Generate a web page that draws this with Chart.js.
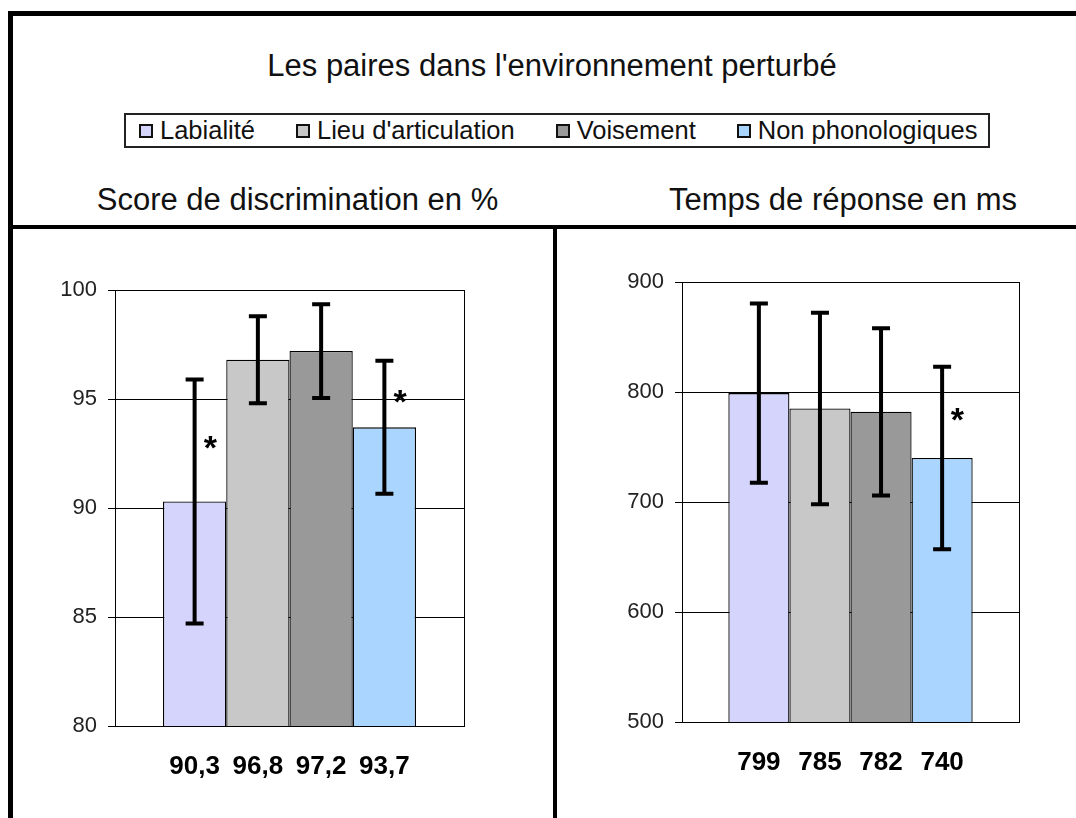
<!DOCTYPE html>
<html lang="fr">
<head>
<meta charset="utf-8">
<title>Les paires dans l'environnement perturbé</title>
<script src="https://cdn.jsdelivr.net/npm/chart.js@4.4.0/dist/chart.umd.min.js"></script>
<style>
    html, body {
        margin: 0;
        padding: 0;
        width: 1076px;
        height: 818px;
        overflow: hidden;
        background: #fff;
        font-family: 'Liberation Sans', Arial, sans-serif;
        color: #111;
    }
    .frame {
        position: absolute;
        left: 8px;
        top: 11px;
        width: 1200px;
        height: 1000px;
        border: 5px solid #000;
        box-sizing: border-box;
    }
    .hrule {
        position: absolute;
        left: 8px;
        top: 225px;
        width: 1100px;
        height: 4px;
        background: #000;
    }
    .vrule {
        position: absolute;
        left: 553px;
        top: 225px;
        width: 4px;
        height: 620px;
        background: #000;
    }
    .text {
        position: absolute;
        text-align: center;
        white-space: nowrap;
        font-size: 31px;
        line-height: 31px;
    }
    .legend {
        position: absolute;
        left: 124px;
        top: 113px;
        height: 35px;
        box-sizing: border-box;
        border: 2px solid #222;
        display: flex;
        align-items: center;
        padding: 0 10px 0 13px;
        font-size: 25.5px;
        white-space: nowrap;
    }
    .legend-item {
        display: flex;
        align-items: center;
        margin-right: 41px;
    }
    .legend-item:last-child { margin-right: 0; }
    .legend-swatch {
        width: 14px;
        height: 14px;
        box-sizing: border-box;
        border: 2px solid #111;
        margin-right: 7px;
    }
    canvas { position: absolute; }
</style>
</head>
<body>
<div class="frame"></div>
<div class="hrule"></div>
<div class="vrule"></div>

<div class="text" style="left:0; width:1104px; top:50px;">Les paires dans l'environnement perturbé</div>
<div class="legend" id="legend"></div>
<div class="text" style="left:0; width:595px; top:184px;">Score de discrimination en %</div>
<div class="text" style="left:600px; width:486px; top:184px;">Temps de réponse en ms</div>

<canvas id="scoreChart" width="538" height="588" style="left:14px; top:230px;"></canvas>
<canvas id="timeChart" width="519" height="588" style="left:557px; top:230px;"></canvas>

<script>
// Data
const seriesNames = ['Labialité', "Lieu d'articulation", 'Voisement', 'Non phonologiques'];

const scoreValues = [90.3, 96.8, 97.2, 93.7];
const scoreErrors = [5.6, 2.0, 2.15, 3.05];
const scoreMarks = ['*', '', '', '*'];
const scoreTicks = [80, 85, 90, 95, 100];

const timeValues = [799, 785, 782, 740];
const timeErrors = [81.5, 87, 76, 83];
const timeMarks = ['', '', '', '*'];
const timeTicks = [500, 600, 700, 800, 900];

const seriesColors = ['#d4d4fc', '#c8c8c8', '#999999', '#a9d5fe'];
const FONT = "'Liberation Sans', Arial, sans-serif";

// Shared legend built from the series names
const legendEl = document.getElementById('legend');
seriesNames.forEach((name, i) => {
    const item = document.createElement('div');
    item.className = 'legend-item';
    const swatch = document.createElement('span');
    swatch.className = 'legend-swatch';
    swatch.style.background = seriesColors[i];
    const label = document.createElement('span');
    label.textContent = name;
    item.appendChild(swatch);
    item.appendChild(label);
    legendEl.appendChild(item);
});

/**
 * Plot frame, error bars, significance stars and value labels under the bars.
 */
function makeOverlay(errors, marks) {
    return {
        id: 'overlay',
        beforeDatasetsDraw(chart) {
            const { ctx, chartArea: a } = chart;
            ctx.save();
            ctx.strokeStyle = '#000';
            ctx.lineWidth = 1;
            ctx.strokeRect(Math.round(a.left) + 0.5, Math.round(a.top) + 0.5,
                Math.round(a.right - a.left), Math.round(a.bottom - a.top));
            ctx.restore();
        },
        afterDatasetsDraw(chart) {
            const { ctx, chartArea: a } = chart;
            const y = chart.scales.y;
            ctx.save();
            chart.data.datasets.forEach((ds, i) => {
                const bar = chart.getDatasetMeta(i).data[0];
                const v = ds.data[0];
                const e = errors[i];
                const yTop = y.getPixelForValue(v + e);
                const yBot = y.getPixelForValue(v - e);

                ctx.strokeStyle = '#000';
                ctx.lineWidth = 4;
                ctx.beginPath();
                ctx.moveTo(bar.x, yTop);
                ctx.lineTo(bar.x, yBot);
                ctx.moveTo(bar.x - 9, yTop);
                ctx.lineTo(bar.x + 9, yTop);
                ctx.moveTo(bar.x - 9, yBot);
                ctx.lineTo(bar.x + 9, yBot);
                ctx.stroke();

                ctx.fillStyle = '#000';
                ctx.textAlign = 'center';
                ctx.textBaseline = 'alphabetic';

                if (marks[i]) {
                    const starY = y.getPixelForValue(v + e / 2);
                    ctx.font = `bold 34px ${FONT}`;
                    ctx.fillText(marks[i], bar.x + bar.width * 0.25, starY + 19);
                }

                ctx.font = `bold 26px ${FONT}`;
                ctx.fillText(v.toLocaleString('fr-FR'), bar.x, a.bottom + 48);
            });
            ctx.restore();
        },
    };
}

function makeChart(canvasId, values, errors, marks, ticks, padding) {
    const ctx = document.getElementById(canvasId).getContext('2d');
    return new Chart(ctx, {
        type: 'bar',
        data: {
            labels: [''],
            datasets: seriesNames.map((name, i) => ({
                label: name,
                data: [values[i]],
                backgroundColor: seriesColors[i],
                borderColor: '#000',
                borderWidth: 1.3,
                borderSkipped: false,
                categoryPercentage: 0.725,
                barPercentage: 1,
            })),
        },
        options: {
            responsive: false,
            animation: false,
            devicePixelRatio: 1,
            layout: { padding },
            plugins: {
                legend: { display: false },
                tooltip: { enabled: false },
            },
            scales: {
                x: { display: false },
                y: {
                    min: ticks[0],
                    max: ticks[ticks.length - 1],
                    afterBuildTicks: (scale) => {
                        scale.ticks = ticks.map((v) => ({ value: v }));
                    },
                    afterFit: (scale) => {
                        scale.width = 60;
                    },
                    grid: { color: '#000', lineWidth: 1, tickLength: 7 },
                    border: { color: '#000', width: 1 },
                    ticks: {
                        color: '#222',
                        padding: 11,
                        font: { family: FONT, size: 22 },
                    },
                },
            },
        },
        plugins: [makeOverlay(errors, marks)],
    });
}

makeChart('scoreChart', scoreValues, scoreErrors, scoreMarks, scoreTicks,
    { left: 41, right: 88, top: 60, bottom: 92 });
makeChart('timeChart', timeValues, timeErrors, timeMarks, timeTicks,
    { left: 65, right: 57, top: 52, bottom: 96 });
</script>
</body>
</html>
